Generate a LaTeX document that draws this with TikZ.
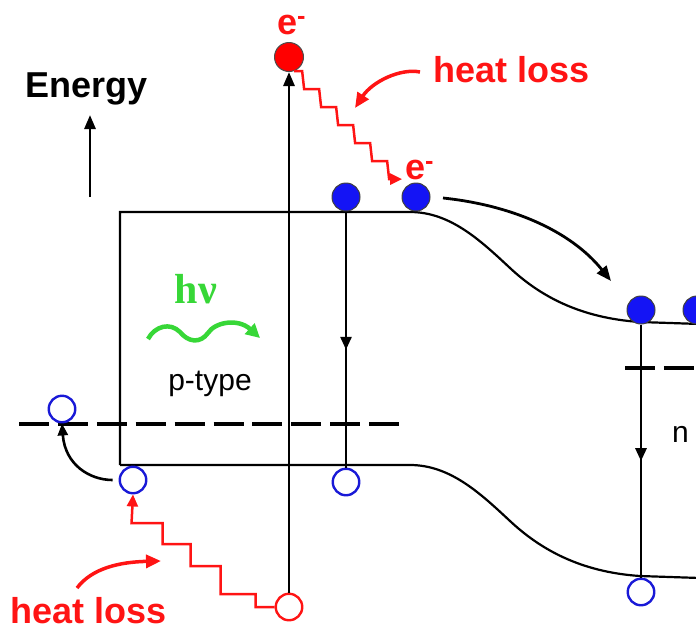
\documentclass[tikz,border=0pt]{standalone}
\usepackage{fontspec}
\setmainfont{Liberation Sans}
\newfontfamily\serifb{Liberation Serif}
\usetikzlibrary{arrows.meta,decorations.markings}
\definecolor{eblue}{RGB}{20,20,245}
\definecolor{hblue}{RGB}{25,25,215}
\definecolor{hvgreen}{RGB}{55,215,55}
\definecolor{hred}{RGB}{255,20,20}
\begin{document}
\begin{tikzpicture}[x=1pt,y=-1pt,
  band/.style={line width=2.2pt},
  fermi/.style={line width=3.4pt,dash pattern=on 30pt off 8.9pt},
  vline/.style={line width=2.8pt},
  tri/.style={-{Triangle[length=14pt,width=11pt]}},
  midarrow/.style={postaction={decorate},decoration={markings,mark=at position #1 with {\arrow{Triangle[length=13pt,width=11pt]}}}},
  elec/.style={circle,fill=eblue,draw=black!75,line width=1pt,minimum size=28pt,inner sep=0pt},
  hole/.style={circle,fill=white,draw=hblue,line width=2.4pt,minimum size=26.5pt,inner sep=0pt},
  relec/.style={circle,fill=red,draw=black!70,line width=1pt,minimum size=29pt,inner sep=0pt},
  rhole/.style={circle,fill=white,draw=hred,line width=2.4pt,minimum size=26.5pt,inner sep=0pt},
  zig/.style={hred,line width=2.5pt,line join=miter,-{Triangle[length=12pt,width=11pt]}},
  heat/.style={hred,line width=3.5pt,-{Triangle[length=15pt,width=13pt]}},
  curv/.style={line width=2.8pt,-{Triangle[length=15pt,width=12pt]}},
  lbl/.style={inner sep=0pt,font=\fontsize{36}{40}\selectfont\bfseries},
  plain/.style={inner sep=0pt,font=\fontsize{30}{34}\selectfont}
]
\useasboundingbox (0,0) rectangle (696,630);

% bands
\draw[band] (120,465) -- (120,212) -- (410,212) .. controls (450,212) and (480,240) .. (510,268) .. controls (540,296) and (580,318) .. (640,322) -- (700,324);
\draw[band] (120,465) -- (410,465) .. controls (450,465) and (480,493) .. (510,521) .. controls (540,549) and (580,572) .. (640,576) -- (700,578);
% Fermi levels
\draw[fermi] (19,424) -- (400,424);
\draw[fermi] (625,368) -- (720,368);

% carriers
\node[relec] (re1) at (289,57) {};
\node[elec] (e1) at (346,197) {};
\node[elec] (e2) at (416,197) {};
\node[elec] (e3) at (641,310) {};
\node[elec] (e4) at (697,310) {};
\node[hole] (h1) at (62,409) {};
\node[hole] (h2) at (133,480) {};
\node[hole] (h3) at (346,482) {};
\node[hole] (h4) at (641,592) {};
\node[rhole] (rh1) at (289,607) {};

% labels
\node[lbl,anchor=base west] (en) at (25,97) {Energy};
\node[lbl,text=hred,anchor=base west] (hl1) at (433,82) {heat loss};
\node[lbl,text=hred,anchor=base west] (hl2) at (10,623) {heat loss};
\node[lbl,text=hred,anchor=base west] (em1) at (277,34) {e\textsuperscript{-}};
\node[lbl,text=hred,anchor=base west] (em2) at (405,179) {e\textsuperscript{-}};
\node[inner sep=0pt,font=\serifb\fontsize{42}{46}\selectfont\bfseries,text=hvgreen,anchor=base] (hv) at (196,303) {hν};
\node[plain,anchor=base] (pt) at (210,390) {p-type};
\node[plain,anchor=base west] (nt) at (672,442) {n};

% energy axis
\coordinate (ax0) at (90,197);
\coordinate (ax1) at (90,115);
\draw[vline,tri] (ax0) -- (ax1);

% transitions
\draw[vline,tri] (rh1.north) -- (re1.south);
\draw[vline,midarrow=0.54] (e1.south) -- (h3.north);
\draw[vline,midarrow=0.54] (e3.south) -- (h4.north);

% drift arrows
\coordinate (c1s) at (443,198);
\coordinate (c1e) at (611,281);
\draw[curv] (c1s) .. controls (510,205) and (570,230) .. (c1e);
\draw[line width=2.6pt,-{Triangle[length=12pt,width=10pt]}] ([xshift=-6pt]h2.west) .. controls (90,480) and (65,465) .. (h1.south);

% thermalisation zigzags
\draw[zig] (re1.-70) -- ++(8,0) -- ++(2,18) -- ++(15,0) -- ++(2,18) -- ++(15,0) -- ++(2,18) -- ++(15,0) -- ++(2,18) -- ++(15,0) -- ++(2,18) -- ++(15,0) -- ++(2,18) -- ++(13,0);
\draw[zig] (rh1.west) -- ++(-19,0) -- ++(0,-13) -- ++(-35,0) -- ++(0,-28) -- ++(-30,0) -- ++(0,-22) -- ++(-28,0) -- ++(0,-21) -- ++(-31,0) -- (h2.south);

% heat loss pointers
\coordinate (ha1) at (420,72);
\coordinate (ha2) at (355,108);
\draw[heat] (ha1) .. controls (400,68) and (372,82) .. (ha2);
\coordinate (hb1) at (77,588);
\coordinate (hb2) at (161,561);
\draw[heat] (hb1) .. controls (92,568) and (120,562) .. (hb2);

% photon
\coordinate (w0) at (148,339);
\coordinate (w1) at (260,338);
\draw[hvgreen,line width=4.5pt,-{Triangle[length=14pt,width=14pt]}] (w0) .. controls (155,326) and (170,322) .. (180,332) .. controls (188,342) and (200,344) .. (208,333) .. controls (215,322) and (238,318) .. (w1);
\end{tikzpicture}
\end{document}
